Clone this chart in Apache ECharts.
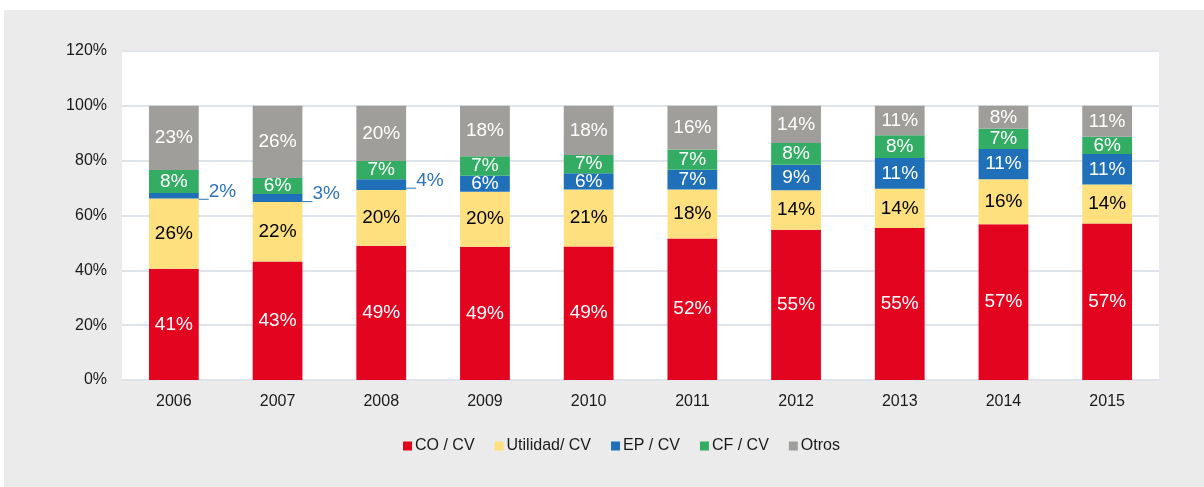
<!DOCTYPE html>
<html>
<head>
<meta charset="utf-8">
<script src="https://cdn.jsdelivr.net/npm/echarts@6/dist/echarts.min.js"></script>
<style>
  body { margin: 0; background: #fff; }
  #main { position: absolute; left: 4px; top: 10px; width: 1200px; height: 477px; }
</style>
</head>
<body>
<div id="main"></div>
<script>
// datos
var years = ['2006', '2007', '2008', '2009', '2010', '2011', '2012', '2013', '2014', '2015'];
var coCv = [40.6, 43.2, 49.0, 48.6, 48.7, 51.6, 54.8, 55.4, 56.8, 57.1];
var utilidadCv = [25.6, 21.7, 20.3, 20.1, 20.8, 17.9, 14.4, 14.4, 16.4, 14.2];
var epCv = [2.0, 2.9, 3.9, 5.8, 5.9, 7.2, 9.3, 11.2, 11.1, 11.1];
var cfCv = [8.4, 5.9, 6.7, 7.1, 6.7, 7.4, 7.9, 8.3, 7.3, 6.3];
var otros = [23.4, 26.3, 20.1, 18.4, 17.9, 15.9, 13.6, 10.7, 8.4, 11.3];
// años donde la etiqueta EP va fuera de la barra
var epOutside = ['2006', '2007', '2008'];
var yTicks = [0, 20, 40, 60, 80, 100, 120];

var chart = echarts.init(document.getElementById('main'));

function pct(p) {
    return Math.round(p.value) + '%';
}

function makeSeries(name, data, color, textColor) {
    return {
        name: name,
        type: 'bar',
        stack: 'total',
        barWidth: '48%',
        data: data,
        itemStyle: { color: color },
        label: {
            show: true,
            position: 'inside',
            color: textColor,
            fontSize: 19,
            fontFamily: 'Liberation Sans, Arial',
            formatter: pct
        },
        emphasis: { disabled: true }
    };
}

var epData = epCv.map(function (v, i) {
    if (epOutside.indexOf(years[i]) < 0) return v;
    return {
        value: v,
        label: {
            position: 'right',
            distance: 0,
            offset: [0, -4],
            formatter: function (p) {
                return '{u| }{t|' + Math.round(p.value) + '%}';
            },
            rich: {
                u: { width: 10, height: 1, backgroundColor: '#2e74b5', verticalAlign: 'bottom' },
                t: { color: '#2e74b5', fontSize: 19, lineHeight: 16, fontFamily: 'Liberation Sans, Arial' }
            }
        }
    };
});

var option = {
    backgroundColor: '#ebebeb',
    animation: false,
    textStyle: { fontFamily: 'Liberation Sans, Arial' },
    grid: {
        left: 118,
        right: 45,
        top: 41,
        bottom: 107,
        show: true,
        backgroundColor: '#ffffff',
        borderWidth: 0
    },
    legend: {
        left: 394,
        top: 423,
        itemWidth: 9,
        itemHeight: 9,
        itemGap: 20,
        icon: 'rect',
        textStyle: { fontSize: 16, color: '#1a1a1a', padding: [0, 0, 0, -2] },
        data: ['CO / CV', 'Utilidad/ CV', 'EP / CV', 'CF / CV', 'Otros']
    },
    xAxis: {
        type: 'category',
        data: years,
        axisLine: { lineStyle: { color: '#dfe4ea', width: 2 } },
        axisTick: { show: false },
        axisLabel: { fontSize: 16, color: '#1a1a1a', margin: 14 }
    },
    yAxis: {
        type: 'value',
        min: yTicks[0],
        max: yTicks[yTicks.length - 1],
        interval: 20,
        axisLine: { show: false },
        axisTick: { show: false },
        splitLine: { lineStyle: { color: '#dfe4ea', width: 2 } },
        axisLabel: { fontSize: 16, color: '#1a1a1a', margin: 15, formatter: '{value}%' }
    },
    series: [
        makeSeries('CO / CV', coCv, '#e30520', '#ffffff'),
        makeSeries('Utilidad/ CV', utilidadCv, '#fee07f', '#000000'),
        makeSeries('EP / CV', epData, '#1f70b8', '#ffffff'),
        makeSeries('CF / CV', cfCv, '#33ad64', '#ffffff'),
        makeSeries('Otros', otros, '#9f9e9b', '#ffffff')
    ]
};

chart.setOption(option);
</script>
</body>
</html>
